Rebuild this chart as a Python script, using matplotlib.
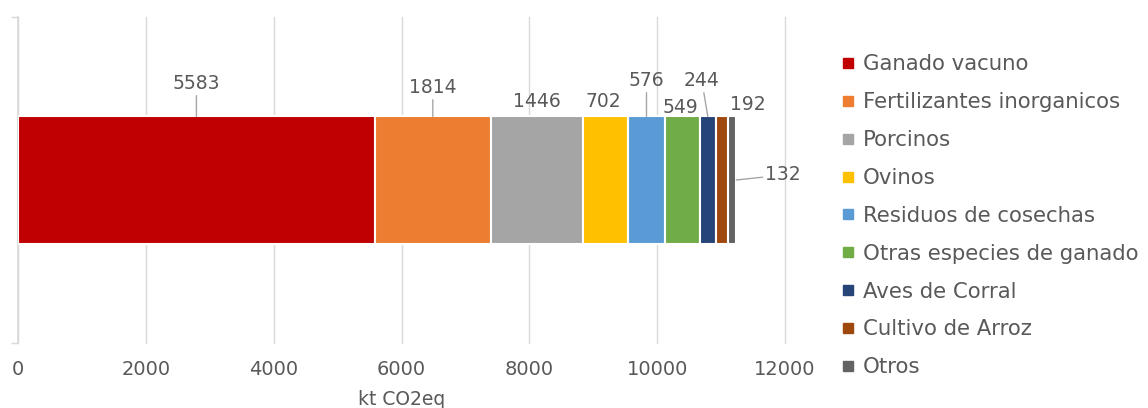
import matplotlib
matplotlib.use('Agg')
import matplotlib.pyplot as plt
import numpy as np

# emisiones por fuente (kt CO2eq)
categorias = ['Ganado vacuno', 'Fertilizantes inorganicos', 'Porcinos', 'Ovinos',
              'Residuos de cosechas', 'Otras especies de ganado', 'Aves de Corral',
              'Cultivo de Arroz', 'Otros']
valores = [5583, 1814, 1446, 702, 576, 549, 244, 192, 132]
colores = ['#C00000', '#ED7D31', '#A5A5A5', '#FFC000', '#5B9BD5',
           '#70AD47', '#264478', '#9E480E', '#636363']
xticks = [0, 2000, 4000, 6000, 8000, 10000, 12000]

# label offsets in pixels from top-centre of each segment (dx, dy, leader line)
offsets = [(0, 33, True), (0, 29, True), (0, 15, False), (-2, 15, False),
           (0, 36, True), (-2, 9, False), (-6, 36, True), (26, 12, False)]

txt = '#595959'
plt.rcParams['font.family'] = ['DejaVu Sans']

fig = plt.figure(figsize=(11.48, 4.08), dpi=100)
ax = fig.add_axes([18/1148, 1 - 343/408, (785 - 18)/1148, (343 - 17)/408])

h = 0.39
left = np.concatenate([[0], np.cumsum(valores)[:-1]])
bars = ax.barh(0, valores, left=left, height=h, color=colores,
               edgecolor='white', linewidth=1.5, zorder=3)

for i, (v, l) in enumerate(zip(valores[:-1], left[:-1])):
    dx, dy, line = offsets[i]
    ax.annotate(str(v), xy=(l + v/2, h/2), xytext=(dx, dy),
                textcoords='offset pixels', ha='center', va='center',
                fontsize=13.5, color=txt,
                arrowprops=dict(arrowstyle='-', color='#A6A6A6', lw=1,
                                shrinkA=0, shrinkB=0) if line else None)
# last segment, label to the right
ax.annotate(str(valores[-1]), xy=(left[-1] + valores[-1], 0.0), xytext=(47, 5),
            textcoords='offset pixels', ha='center', va='center',
            fontsize=13.5, color=txt,
            arrowprops=dict(arrowstyle='-', color='#A6A6A6', lw=1,
                            shrinkA=0, shrinkB=0))

ax.set_xlim(0, 12000)
ax.set_ylim(-0.5, 0.5)
ax.set_xticks(xticks)
ax.set_xticklabels([str(t) for t in xticks], fontsize=14, color=txt)
ax.tick_params(axis='x', length=0, pad=12)
ax.set_yticks([-0.5, 0.5])
ax.set_yticklabels([])
ax.tick_params(axis='y', length=5, color='#D9D9D9', width=1)
ax.grid(axis='x', color='#D9D9D9', lw=1, zorder=0)
for gl in ax.get_xgridlines():
    gl.set_clip_on(False)
ax.set_axisbelow(True)
for s in ['top', 'right', 'bottom']:
    ax.spines[s].set_visible(False)
ax.spines['left'].set_color('#D9D9D9')
ax.spines['left'].set_linewidth(1.2)
ax.set_xlabel('kt CO2eq', fontsize=13.5, color=txt, labelpad=8)

handles = [plt.Line2D([], [], marker='s', ls='', color=c, markersize=7) for c in colores]
fig.legend(handles, categorias, loc='upper left', bbox_to_anchor=(833/1148, 1 - 46/408),
           frameon=False, fontsize=15.3, labelcolor=txt, handlelength=0.6,
           handletextpad=0.4, labelspacing=0.84, borderaxespad=0)

plt.savefig('out.png', dpi=100)
